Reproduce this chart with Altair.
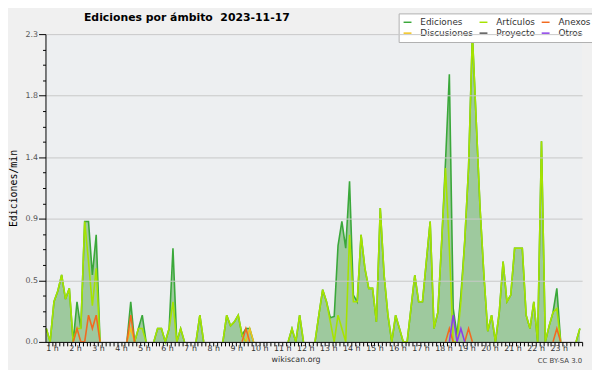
import altair as alt
import pandas as pd

# ---- data (edits per minute, 10-minute bins) ----
first_bin_hour = 0.755
bin_hours = 1 / 6

# legend order (filled column by column: 3 columns x 2 rows)
series_names = ["Ediciones", "Discusiones", "Artículos", "Proyecto", "Anexos", "Otros"]
series_colors = ["#3aa83a", "#f2c31b", "#a6e300", "#555555", "#f26a1f", "#8b3fe8"]
draw_order = ["Ediciones", "Artículos", "Discusiones", "Proyecto", "Anexos", "Otros"]

ediciones = [
    0.1, 0.0, 0.3, 0.38, 0.5, 0.32, 0.4, 0.0, 0.3, 0.1,
    0.9, 0.9, 0.5, 0.8, 0, 0, 0, 0, 0, 0,
    0, 0, 0.3, 0, 0.1, 0.2, 0, 0, 0, 0.1,
    0.1, 0, 0.1, 0.7, 0, 0.1, 0, 0, 0, 0,
    0.2, 0, 0, 0, 0, 0, 0, 0.2, 0.12, 0.15,
    0.2, 0.05, 0.1, 0.1, 0, 0, 0, 0, 0, 0,
    0, 0, 0, 0, 0.1, 0, 0.2, 0, 0, 0,
    0, 0.2, 0.39, 0.3, 0.18, 0.19, 0.72, 0.9, 0.7, 1.2,
    0.35, 0.3, 0.8, 0.55, 0.4, 0.4, 0.15, 1.0, 0.5, 0.2,
    0, 0.2, 0.1, 0, 0, 0.25, 0.5, 0.3, 0.3, 0.6,
    0.9, 0.1, 0.22, 0.75, 1.35, 2.0, 0.25, 0.05, 0.35, 0.75,
    1.3, 2.3, 1.65, 1.0, 0.5, 0.08, 0.2, 0, 0.22, 0.6,
    0.3, 0.35, 0.7, 0.7, 0.7, 0.2, 0.1, 0.3, 0, 1.5,
    0, 0.12, 0.22, 0.4, 0, 0, 0, 0, 0, 0.1,
]

articulos = [
    0.1, 0.0, 0.3, 0.38, 0.5, 0.32, 0.4, 0.0, 0.1, 0.1,
    0.9, 0.6, 0.27, 0.55, 0, 0, 0, 0, 0, 0,
    0, 0, 0, 0, 0.1, 0.1, 0, 0, 0, 0.1,
    0.1, 0, 0.1, 0.3, 0, 0.1, 0, 0, 0, 0,
    0.2, 0, 0, 0, 0, 0, 0, 0.2, 0.12, 0.15,
    0.2, 0.05, 0, 0, 0, 0, 0, 0, 0, 0,
    0, 0, 0, 0, 0.1, 0, 0.2, 0, 0, 0,
    0, 0.2, 0.39, 0.3, 0.15, 0, 0.2, 0.1, 0, 0.8,
    0.3, 0.3, 0.8, 0.55, 0.4, 0.4, 0.15, 1.0, 0.5, 0.2,
    0, 0.2, 0.1, 0, 0, 0.25, 0.5, 0.3, 0.3, 0.6,
    0.9, 0.1, 0.22, 0.75, 1.3, 0.7, 0, 0, 0.3, 0.75,
    1.3, 2.3, 1.65, 1.0, 0.5, 0.08, 0.2, 0, 0.22, 0.6,
    0.3, 0.35, 0.7, 0.7, 0.7, 0.2, 0.1, 0.3, 0, 1.5,
    0, 0.12, 0.22, 0.25, 0, 0, 0, 0, 0, 0.1,
]

anexos = [
    0, 0, 0, 0, 0, 0, 0, 0, 0.1, 0,
    0, 0.2, 0.1, 0.2, 0, 0, 0, 0, 0, 0,
    0, 0, 0.2, 0, 0, 0, 0, 0, 0, 0,
    0, 0, 0, 0, 0, 0, 0, 0, 0, 0,
    0, 0, 0, 0, 0, 0, 0, 0, 0, 0,
    0, 0, 0.1, 0, 0, 0, 0, 0, 0, 0,
    0, 0, 0, 0, 0, 0, 0, 0, 0, 0,
    0, 0, 0, 0, 0, 0, 0, 0, 0, 0,
    0, 0, 0, 0, 0, 0, 0, 0, 0, 0,
    0, 0, 0, 0, 0, 0, 0, 0, 0, 0,
    0, 0, 0, 0, 0, 0.1, 0, 0, 0, 0,
    0.1, 0, 0, 0, 0, 0, 0, 0, 0, 0,
    0, 0, 0, 0, 0, 0, 0, 0, 0, 0,
    0, 0, 0, 0.1, 0, 0, 0, 0, 0, 0,
]

discusiones = [
    0, 0, 0, 0, 0, 0, 0, 0, 0, 0,
    0, 0, 0, 0, 0, 0, 0, 0, 0, 0,
    0, 0, 0.1, 0, 0, 0, 0, 0, 0, 0,
    0, 0, 0, 0, 0, 0, 0, 0, 0, 0,
    0, 0, 0, 0, 0, 0, 0, 0, 0, 0,
    0, 0, 0, 0.1, 0, 0, 0, 0, 0, 0,
    0, 0, 0, 0, 0, 0, 0, 0, 0, 0,
    0, 0, 0, 0, 0, 0, 0, 0, 0, 0,
    0, 0, 0, 0, 0, 0, 0, 0, 0, 0,
    0, 0, 0, 0, 0, 0, 0, 0, 0, 0,
    0, 0, 0, 0, 0, 0, 0, 0, 0, 0,
    0, 0, 0, 0, 0, 0, 0, 0, 0, 0,
    0, 0, 0, 0, 0, 0, 0, 0, 0, 0,
    0, 0, 0, 0, 0, 0, 0, 0, 0, 0,
]

proyecto = [0] * 140

otros = [
    0, 0, 0, 0, 0, 0, 0, 0, 0, 0,
    0, 0, 0, 0, 0, 0, 0, 0, 0, 0,
    0, 0, 0, 0, 0, 0, 0, 0, 0, 0,
    0, 0, 0, 0, 0, 0, 0, 0, 0, 0,
    0, 0, 0, 0, 0, 0, 0, 0, 0, 0,
    0, 0, 0, 0, 0, 0, 0, 0, 0, 0,
    0, 0, 0, 0, 0, 0, 0, 0, 0, 0,
    0, 0, 0, 0, 0, 0, 0, 0, 0, 0,
    0, 0, 0, 0, 0, 0, 0, 0, 0, 0,
    0, 0, 0, 0, 0, 0, 0, 0, 0, 0,
    0, 0, 0, 0, 0, 0, 0.2, 0, 0.1, 0,
    0, 0, 0, 0, 0, 0, 0, 0, 0, 0,
    0, 0, 0, 0, 0, 0, 0, 0, 0, 0,
    0, 0, 0, 0, 0, 0, 0, 0, 0, 0,
]

values_by_series = {
    "Ediciones": ediciones,
    "Artículos": articulos,
    "Anexos": anexos,
    "Discusiones": discusiones,
    "Proyecto": proyecto,
    "Otros": otros,
}

title_text = "Ediciones por ámbito \u00a02023-11-17"
y_title = "Ediciones/min"
site_text = "wikiscan.org"
license_text = "CC BY-SA 3.0"

# ---- tables ----
n = len(ediciones)
times = [first_bin_hour + i * bin_hours for i in range(n)]
area_df = pd.DataFrame({"t": times, "v": ediciones})

rows = []
for name in draw_order:
    vals = values_by_series[name]
    for i, v in enumerate(vals):
        prev0 = i == 0 or vals[i - 1] == 0
        next0 = i == n - 1 or vals[i + 1] == 0
        shown = None if (v == 0 and prev0 and next0) else v
        rows.append({"t": times[i], "serie": name, "v": shown})
line_df = pd.DataFrame(rows)

W, H = 544, 312
y_step = 0.115
y_ticks = [round(k * y_step, 4) for k in range(21)]
x_ticks = [k / 6 for k in range(5, 145)]
major_test = "round(datum.value / 0.115) % 4 == 0"

x_scale = alt.Scale(domain=[0.72, 24.02], nice=False, zero=False)
y_scale = alt.Scale(domain=[0, 2.3], nice=False, zero=True)

x_axis = alt.Axis(
    values=x_ticks,
    tickCount=400,
    title=None,
    grid=False,
    labelExpr="abs(datum.value - round(datum.value)) < 0.01 && round(datum.value) < 24 ? round(datum.value) + ' h' : ''",
    labelOverlap=False,
    labelFlush=False,
    labelAngle=0,
    labelFont="DejaVu Sans",
    labelFontSize=8,
    labelColor="#333333",
    labelPadding=-1,
    tickSize=4,
    tickColor="black",
    domainColor="black",
    zindex=1,
)

y_axis = alt.Axis(
    values=y_ticks,
    tickCount=100,
    title=y_title,
    titleFont="DejaVu Sans Mono",
    titleFontSize=10,
    titleFontWeight="normal",
    titleColor="black",
    titleX=-27,
    titleY=H / 2,
    titleAlign="center",
    titleBaseline="bottom",
    labelExpr=major_test + " ? format(datum.value, '.1f') : ''",
    labelOverlap=False,
    labelFlush=False,
    labelFont="DejaVu Sans",
    labelFontSize=8,
    labelColor="#555555",
    labelPadding=1,
    tickColor="black",
    tickSize={"condition": {"test": major_test, "value": 7}, "value": 3},
    domainColor="black",
    grid=True,
    gridColor="#c8c8c8",
    gridOpacity={"condition": {"test": major_test, "value": 1}, "value": 0},
    zindex=1,
)

legend = alt.Legend(
    orient="none",
    legendX=358,
    legendY=-21,
    columns=3,
    gridAlign="each",
    title=None,
    fillColor="white",
    strokeColor="#b0b0b0",
    padding=4,
    symbolType="stroke",
    symbolSize=64,
    symbolStrokeWidth=1.5,
    labelFont="DejaVu Sans",
    labelFontSize=9,
    labelColor="#333333",
    labelOffset=8,
    rowPadding=1,
    columnPadding=3,
)

area = alt.Chart(area_df).mark_area(color="#9ec99e", opacity=1).encode(
    x=alt.X("t:Q", scale=x_scale, axis=x_axis),
    y=alt.Y("v:Q", scale=y_scale, axis=y_axis),
)

lines = alt.Chart(line_df).mark_line(strokeWidth=1.6).encode(
    x=alt.X("t:Q", scale=x_scale),
    y=alt.Y("v:Q", scale=y_scale),
    color=alt.Color(
        "serie:N",
        scale=alt.Scale(domain=series_names, range=series_colors),
        legend=legend,
    ),
)

def label_layer(text, x, y, size, align, weight="normal", color="#333333"):
    return alt.Chart(pd.DataFrame({"txt": [text]})).mark_text(
        align=align,
        baseline="alphabetic",
        font="DejaVu Sans",
        fontSize=size,
        fontWeight=weight,
        color=color,
    ).encode(x=alt.value(x), y=alt.value(y), text="txt:N")

title_layer = label_layer(title_text, 39, -13, 11, "left", "bold", "black")
site_layer = label_layer(site_text, 254, 332, 8, "center")
license_layer = label_layer(license_text, 544, 333, 7, "right", color="#444444")

chart = (
    alt.layer(area, lines, title_layer, site_layer, license_layer)
    .properties(
        width=W,
        height=H,
        autosize=alt.AutoSizeParams(type="none"),
        padding={"left": 38, "top": 24, "right": 10, "bottom": 26},
        background="#f0f0f0",
    )
    .configure_view(stroke=None, fill="#edeff1")
)

chart.save("out.html", embed_options={"renderer": "svg", "actions": False})
